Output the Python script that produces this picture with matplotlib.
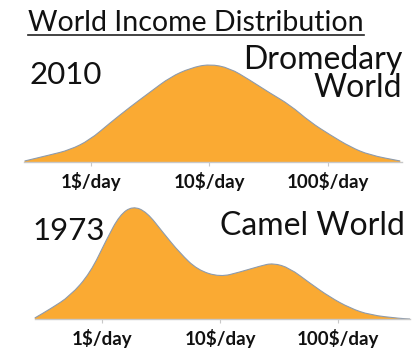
import matplotlib
matplotlib.use("Agg")
import matplotlib.pyplot as plt
from matplotlib.lines import Line2D
from matplotlib.path import Path
from matplotlib.patches import PathPatch

# x positions are log10($/day); heights are relative density
x_2010 = [-0.56, -0.35, -0.18, -0.01, 0.16, 0.33, 0.50, 0.67, 0.84, 1.00,
          1.17, 1.34, 1.51, 1.68, 1.85, 2.02, 2.19, 2.35, 2.61]
h_2010 = [1, 7, 12, 22, 39, 55, 70, 85, 94, 98,
          94, 82, 69, 57, 40, 27, 15, 7, 1]

x_1973 = [-0.57, -0.44, -0.27, -0.10, 0.04, 0.15, 0.26, 0.38, 0.52, 0.66,
          0.81, 1.00, 1.17, 1.34, 1.45, 1.59, 1.76, 1.93, 2.10, 2.27, 2.53, 2.61]
h_1973 = [1, 10, 23, 46, 80, 104, 113, 107, 86, 66,
          49, 42, 47, 53, 56, 51, 36, 22, 11, 4, 0.5, 0]

tick_pos = [0, 1, 2]
tick_labels = ["1$/day", "10$/day", "100$/day"]

W, H = 412, 354
fill_col = "#FAAA33"
edge_col = "#8C9BAE"
font = ["Lato", "DejaVu Sans"]

fig = plt.figure(figsize=(W / 100, H / 100), dpi=100)


def smooth_path(xs, hs, close):
    # quadratic bezier through segment midpoints, using the read points as controls
    pts = list(zip(xs, hs))
    verts = [pts[0]]
    codes = [Path.MOVETO]
    mids = [((a[0] + b[0]) / 2, (a[1] + b[1]) / 2) for a, b in zip(pts[:-1], pts[1:])]
    verts.append(mids[0]); codes.append(Path.LINETO)
    for i in range(1, len(pts) - 1):
        verts += [pts[i], mids[i]]
        codes += [Path.CURVE3, Path.CURVE3]
    verts.append(pts[-1]); codes.append(Path.LINETO)
    if close:
        verts += [(xs[-1], 0), (xs[0], 0), pts[0]]
        codes += [Path.LINETO, Path.LINETO, Path.CLOSEPOLY]
    return Path(verts, codes)


def panel(left, right, base, xs, hs, xlim, ymax):
    ax = fig.add_axes([left / W, (H - base) / H, (right - left) / W, ymax / H])
    ax.add_patch(PathPatch(smooth_path(xs, hs, True), facecolor=fill_col,
                           lw=0, clip_on=False))
    ax.add_patch(PathPatch(smooth_path(xs, hs, False), facecolor="none",
                           edgecolor=edge_col, lw=0.8, clip_on=False))
    ax.set_xlim(*xlim)
    ax.set_ylim(0, ymax)
    for s in ["top", "right", "left"]:
        ax.spines[s].set_visible(False)
    ax.spines["bottom"].set_color("#C8C8C8")
    ax.spines["bottom"].set_linewidth(1.0)
    ax.set_yticks([])
    ax.set_xticks(tick_pos)
    ax.set_xticklabels(tick_labels, fontsize=13.5, fontweight="bold", family=font)
    ax.tick_params(axis="x", length=3, color="#C8C8C8", pad=4, labelcolor="#111111")
    ax.patch.set_alpha(0)
    return ax


panel(24, 402, 162, x_2010, h_2010, (-0.565, 2.625), 100)
panel(35, 410, 319, x_1973, h_1973, (-0.568, 2.61), 115)


def ftext(x, y, s, ha="left", size=23):
    return fig.text(x / W, (H - y) / H, s, ha=ha, va="baseline",
                    fontsize=size, family=font, color="#111111")


title = ftext(28, 31, "World Income Distribution", size=20.5)
ftext(30, 84, "2010", size=22.5)
ftext(402, 69, "Dromedary", ha="right")
ftext(402, 97, "World", ha="right")
ftext(32, 240, "1973", size=22.5)
ftext(405, 235, "Camel World", ha="right")

# underline the title
fig.canvas.draw()
bb = title.get_window_extent()
fig.add_artist(Line2D([bb.x0 / W, bb.x1 / W], [(H - 35) / H, (H - 35) / H],
                      transform=fig.transFigure, color="#222222", lw=1.2))

fig.savefig("out.png", dpi=100)
